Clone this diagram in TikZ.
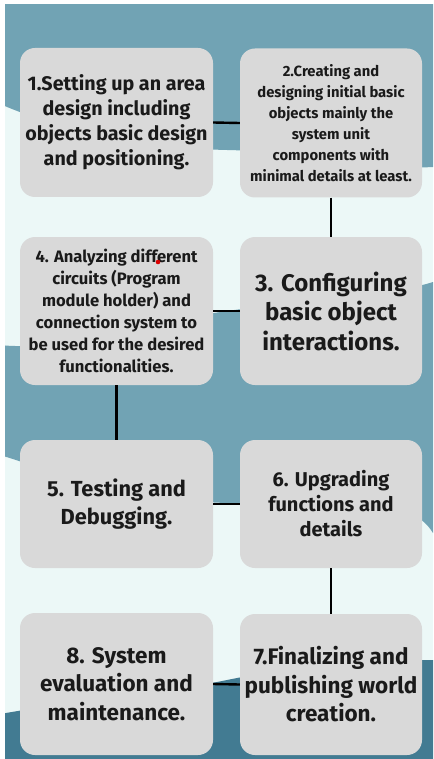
\documentclass[tikz,border=0pt]{standalone}
\usepackage{fontspec}
\setmainfont{Fira Sans}
\definecolor{tealA}{HTML}{71A3B4}
\definecolor{tealB}{HTML}{427B92}
\definecolor{lightbg}{HTML}{ECF8F7}
\definecolor{boxgray}{HTML}{D9D9D9}
\definecolor{txt}{HTML}{1A1A1A}
\begin{document}
\begin{tikzpicture}[x=1pt,y=-1pt,
  stepbox/.style={fill=boxgray, rounded corners=15pt, inner sep=0pt, align=center, text=txt},
  link/.style={draw=black, line width=2.4pt}]
\useasboundingbox (0,0) rectangle (433,759);
\fill[white] (0,0) rectangle (433,759);
\begin{scope}
\clip (5,5) rectangle (433,759);
\fill[lightbg] (5,5) rectangle (433,759);
\fill[tealA] (0,0) -- (433,0) -- (433,167)
  .. controls (390,170) and (320,152) .. (227,150)
  .. controls (140,148) and (60,130) .. (0,104) -- cycle;
\fill[tealA] (0,345) .. controls (60,352) and (150,322) .. (227,311)
  .. controls (330,297) and (400,293) .. (433,282)
  -- (433,533) .. controls (420,512) and (400,506) .. (330,505)
  .. controls (290,504) and (250,503) .. (227,503)
  .. controls (120,500) and (50,470) .. (0,455) -- cycle;
\fill[tealB] (0,714) .. controls (80,700) and (180,690) .. (227,680)
  .. controls (300,665) and (380,660) .. (433,660)
  -- (433,759) -- (0,759) -- cycle;
\end{scope}
% boxes
\node[stepbox, minimum width=193pt, minimum height=149pt, font=\fontsize{19.7}{25}\selectfont\bfseries] (b1) at (116.5,122.5)
  {1.Setting up an area\\ design including\\ objects basic design\\ and positioning.};
\node[stepbox, minimum width=182pt, minimum height=149pt, font=\fontsize{14.8}{21}\selectfont\bfseries] (b2) at (331,123)
  {2.Creating and\\ designing initial basic\\ objects mainly the\\ system unit\\ components with\\ minimal details at least.};
\node[stepbox, minimum width=193pt, minimum height=148pt, font=\fontsize{16.6}{22}\selectfont\bfseries] (b4) at (116.5,311)
  {4. Analyzing different\\ circuits (Program\\ module holder) and\\ connection system to\\ be used for the desired\\ functionalities.};
\node[stepbox, minimum width=182pt, minimum height=148pt, font=\fontsize{24}{29.5}\selectfont\bfseries] (b3) at (331,311)
  {3. Configuring\\ basic object\\ interactions.};
\node[stepbox, minimum width=193pt, minimum height=128pt, font=\fontsize{21.8}{28}\selectfont\bfseries] (b5) at (116.5,504)
  {5. Testing and\\ Debugging.};
\node[stepbox, minimum width=182pt, minimum height=128pt, font=\fontsize{20}{25}\selectfont\bfseries] (b6) at (331,504)
  {6. Upgrading\\ functions and\\ details};
\node[stepbox, minimum width=182pt, minimum height=141pt, font=\fontsize{22.5}{28.5}\selectfont\bfseries] (b7) at (331,684.5)
  {7.Finalizing and\\ publishing world\\ creation.};
\node[stepbox, minimum width=193pt, minimum height=142pt, font=\fontsize{22.5}{28.5}\selectfont\bfseries] (b8) at (116.5,684)
  {8. System\\ evaluation and\\ maintenance.};
% red mark
\fill[red!85!black] (158,262) circle (2.3pt);
% connectors
\draw[link] (b1.east) -- (b2.west);
\draw[link] (b2.south) -- (b3.north);
\draw[link] (b3.west) -- (b4.east);
\draw[link] (b4.south) -- (b5.north);
\draw[link] (b5.east) -- (b6.west);
\draw[link] (b6.south) -- (b7.north);
\draw[link] (b7.west) -- (b8.east);
\end{tikzpicture}
\end{document}
